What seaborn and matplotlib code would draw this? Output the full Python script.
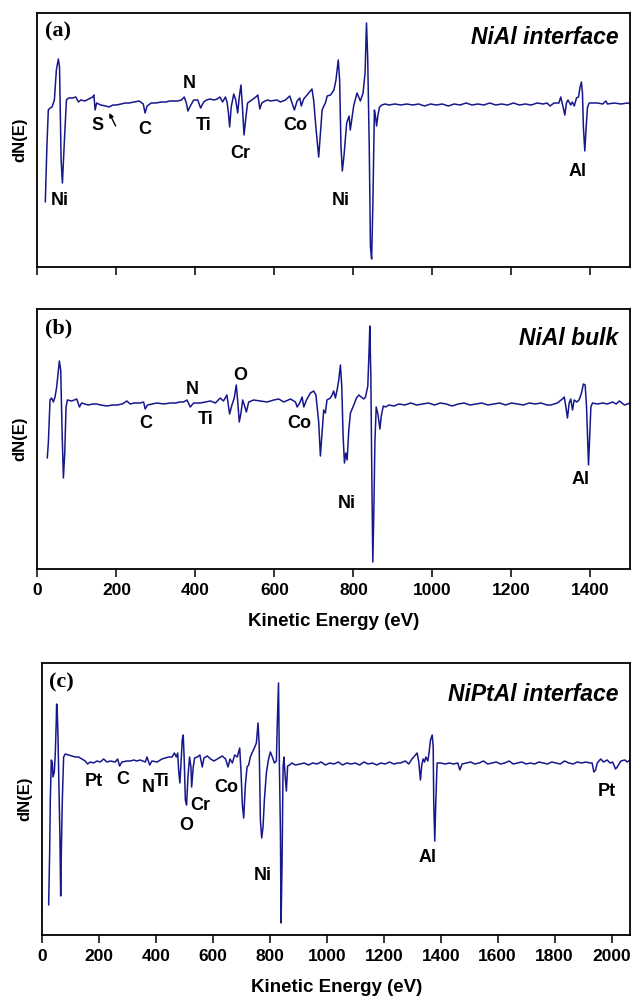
import matplotlib
matplotlib.use("Agg")
import matplotlib.pyplot as plt
import seaborn as sns
import pandas as pd

# ---------------- data (Auger spectra, arbitrary dN(E) units) ----------------
a_energy = [20, 24, 27.6, 32, 37, 43, 48, 53, 56, 60, 63.3, 68.4, 73.5, 78.6, 88.8, 97, 104, 110, 120, 130,
            140, 143, 146, 150, 160, 173, 181, 191, 200, 212, 222, 232, 245, 257.6, 268, 272.5, 277.6, 288, 300, 313.6,
            325, 335, 344, 355, 364.6, 371.7, 377, 381, 387, 395.6, 406, 413, 421, 428, 436.7, 447, 455, 462, 468.7, 476,
            480, 483.6, 486.6, 490.6, 497, 502, 507, 511, 515.3, 519, 523, 527, 532, 542.6, 553, 558, 563, 568, 576, 584,
            589.6, 606.5, 615, 627.7, 638.7, 644.6, 650.5, 657.3, 664, 668, 674, 682.5, 691, 695, 699.5, 705.5, 712, 716.5, 720.7, 725,
            729, 733.6, 742, 750.6, 755.7, 761.6, 765, 768.4, 771.8, 776, 782.8, 789, 792, 800.5, 809, 817.5, 824.3, 829.4, 833, 836,
            840, 843, 846, 849, 853, 856, 858.5, 862, 866, 872, 880, 890, 905, 920, 935, 950, 965, 980, 995, 1010,
            1025, 1040, 1055, 1070, 1085, 1100, 1115, 1130, 1145, 1160, 1175, 1190, 1205, 1220, 1235, 1250, 1265, 1280, 1290, 1297.6,
            1307.8, 1320, 1324.7, 1330.6, 1335, 1339, 1343, 1350, 1354, 1359, 1364.5, 1369.6, 1373.7, 1377, 1379.7, 1382, 1385.6, 1389, 1392.5, 1396.8,
            1405, 1418, 1431, 1438.8, 1443, 1460, 1477, 1494, 1502]
a_signal = [65, 120, 157, 159, 160, 167, 197, 208, 200, 107, 84, 127, 167, 169, 169, 170, 165, 167, 166, 168,
            170, 172, 157, 164, 162, 161, 160, 162, 162, 163, 164, 164, 165, 166, 163, 154, 161, 164, 164, 165,
            165, 166, 166, 166, 167, 170, 164, 156, 161, 167, 167, 159, 165, 167, 168, 167, 168, 170, 165, 170,
            165, 154, 140, 160, 173, 167, 154, 170, 182, 160, 132, 147, 164, 167, 170, 172, 158, 164, 166, 167,
            166, 167, 165, 167, 171, 164, 157, 166, 169, 161, 168, 172, 176, 178, 166, 137, 110, 134, 157, 161,
            164, 171, 172, 177, 187, 207, 187, 121, 96, 111, 144, 151, 137, 161, 174, 166, 174, 194, 244, 210,
            120, 20, 8, 60, 157, 150, 141, 152, 160, 162, 163, 162, 163, 162, 163, 162, 163, 161, 163, 162,
            163, 161, 163, 162, 164, 162, 163, 162, 164, 162, 163, 162, 164, 162, 163, 162, 164, 163, 164, 161,
            164, 164, 170, 160, 152, 164, 167, 162, 165, 161, 169, 170, 180, 185, 174, 140, 116, 140, 160, 164,
            164, 164, 163, 166, 163, 164, 163, 164, 163]

b_energy = [25, 27.7, 32, 36, 40.4, 44.6, 48.8, 55.6, 59, 62.4, 65.8, 69.2, 72.5, 75.9, 86.9, 99.6, 106.4, 112, 120, 129,
            140, 150, 160, 176, 190, 201.7, 215, 226.3, 234.8, 245, 260, 268.8, 272.8, 278.7, 290, 302.4, 320, 336, 350, 360,
            370, 378.6, 387, 395.6, 412.5, 425, 438, 450.6, 462.8, 471, 479.7, 486.5, 492.4, 498.3, 503.4, 506.8, 511, 515.3, 519.6, 523.8,
            528.9, 534.8, 547.5, 564.4, 581.3, 598.3, 611, 623.6, 640.6, 653.3, 657.4, 664, 670, 674.4, 681, 691, 699.4, 705, 712, 716.3,
            720.4, 724.7, 728.9, 733, 741.6, 745.9, 750, 754.3, 758.6, 762.8, 767, 770.4, 773.8, 777.2, 780.6, 784, 788.2, 792.4, 800.9, 807.6,
            813.6, 819.5, 826.3, 830.5, 836.3, 839.7, 841.4, 844, 846.5, 849, 851.7, 854.3, 857.6, 861.9, 867, 870.4, 875.5, 881.4, 889.8, 902.5,
            915, 930, 945, 960, 975, 990, 1005, 1020, 1035, 1050, 1065, 1080, 1095, 1110, 1125, 1140, 1155, 1170, 1185, 1200,
            1215, 1230, 1245, 1260, 1275, 1290, 1299.5, 1316, 1329, 1333.5, 1337.7, 1341.7, 1346, 1350, 1354.5, 1358.7, 1365.5, 1371, 1377.2, 1382,
            1386.5, 1390, 1392.5, 1395, 1397.6, 1401, 1405, 1418, 1431, 1443, 1456, 1465, 1473, 1486, 1494, 1503]
b_signal = [111, 126, 169, 171, 167, 172, 182, 208, 199, 139, 91, 116, 162, 169, 168, 170, 162, 166, 165, 164,
            165, 165, 164, 163, 164, 164, 165, 168, 165, 166, 166, 167, 160, 164, 165, 166, 165, 166, 166, 167,
            167, 169, 162, 166, 166, 167, 168, 166, 171, 168, 174, 155, 164, 171, 184, 169, 147, 156, 169, 164,
            157, 167, 169, 168, 167, 169, 170, 167, 170, 167, 162, 166, 172, 162, 169, 176, 178, 174, 147, 113,
            136, 159, 156, 169, 171, 174, 178, 171, 179, 189, 204, 183, 133, 106, 116, 109, 139, 156, 164, 171,
            174, 172, 170, 172, 183, 220, 243, 193, 93, 7, 60, 127, 162, 155, 140, 153, 163, 162, 164, 163,
            165, 164, 166, 164, 165, 166, 164, 166, 165, 163, 165, 166, 164, 165, 166, 164, 165, 166, 164, 166,
            165, 164, 166, 165, 166, 164, 164, 166, 170, 172, 162, 151, 166, 170, 159, 169, 167, 169, 176, 185,
            184, 162, 132, 104, 129, 162, 166, 165, 166, 165, 167, 165, 168, 164, 165, 167]

c_energy = [22.3, 25.8, 28.1, 31.6, 35, 37.5, 42.2, 45.7, 49.2, 50.3, 52, 55, 58.5, 61.8, 64.6, 66.8, 70.3, 74.9, 80.7, 92.4,
            104, 115.7, 127.4, 139, 150.8, 159, 168.4, 180, 191.9, 203.6, 215.4, 227, 238.8, 256.3, 264.5, 271.7, 279.9, 297.5, 310, 321,
            332, 344.4, 362, 367.8, 377.3, 385.4, 403, 420.6, 432.3, 444, 455.8, 464, 471, 475.8, 479, 483.4, 488, 491.6, 495.2, 498.7,
            502.6, 507, 511.7, 517.5, 522.2, 524.8, 530.4, 535.1, 544.5, 553.8, 562, 568, 579.6, 591.4, 603, 615, 632.6, 644, 652.5, 659.5,
            667.7, 676, 685, 693.6, 698.3, 703, 707.7, 713.5, 719.4, 725, 731, 737, 745, 752.2, 758, 762, 766.3, 770.9, 775.6, 780.3,
            787.3, 794.3, 801.4, 808.4, 815.4, 822.5, 826, 830, 833, 836.6, 839, 842.4, 846, 849, 853, 857.6, 862, 869, 877, 889,
            906.5, 920, 935, 950, 965, 980, 995, 1010, 1025, 1040, 1055, 1070, 1085, 1100, 1115, 1130, 1145, 1160, 1175, 1190,
            1205, 1220, 1235, 1250, 1258, 1276, 1287.5, 1299, 1311, 1317, 1323, 1328.6, 1333.3, 1338, 1343, 1347.6, 1354.6, 1359.3, 1364, 1370,
            1373.5, 1375.4, 1379, 1382.5, 1387.2, 1399, 1416.5, 1430, 1445, 1460, 1467, 1475, 1490, 1505, 1520, 1535, 1550, 1565, 1580, 1595,
            1610, 1625, 1640, 1655, 1670, 1685, 1700, 1715, 1730, 1745, 1760, 1775, 1790, 1805, 1820, 1835, 1850, 1865, 1880, 1895,
            1910, 1925, 1932, 1938, 1944, 1950, 1962, 1972, 1985, 1995, 2004, 2014, 2020, 2033, 2047, 2055, 2065, 2072]
c_signal = [30, 82, 135, 175, 173, 158, 163, 182, 215, 231, 229, 200, 150, 100, 39, 82, 135, 178, 181, 180,
            179, 178, 178, 176, 174, 171, 173, 172, 174, 173, 176, 173, 174, 173, 176, 169, 173, 174, 174, 175,
            174, 175, 173, 178, 170, 174, 173, 176, 177, 178, 178, 182, 178, 182, 165, 152, 175, 195, 200, 175,
            135, 130, 158, 178, 168, 148, 168, 177, 178, 180, 168, 177, 179, 176, 174, 176, 179, 176, 168, 176,
            172, 180, 178, 187, 163, 130, 117, 150, 168, 170, 178, 182, 187, 192, 212, 190, 115, 97, 108, 135,
            162, 175, 183, 178, 172, 174, 215, 252, 172, 105, 12, 72, 168, 178, 160, 144, 169, 170, 172, 170,
            171, 172, 170, 172, 171, 173, 170, 172, 171, 173, 170, 172, 171, 172, 170, 173, 171, 172, 170, 172,
            171, 173, 171, 172, 172, 174, 171, 176, 180, 182, 173, 155, 170, 176, 173, 178, 174, 183, 195, 200,
            188, 132, 94, 132, 172, 172, 171, 172, 171, 172, 165, 171, 172, 173, 171, 172, 174, 171, 172, 173,
            171, 172, 174, 171, 172, 173, 171, 172, 171, 173, 172, 171, 173, 172, 171, 174, 172, 171, 173, 172,
            173, 172, 172, 163, 165, 172, 176, 173, 175, 172, 173, 166, 168, 174, 175, 173, 175, 174]

# element labels: (text, energy, signal)
a_labels = [("Ni", 56, 67), ("S", 153, 141), ("C", 272, 138), ("N", 384, 184), ("Ti", 420, 142),
            ("Cr", 514, 113), ("Co", 653, 142), ("Ni", 767, 67), ("Al", 1367, 96)]
b_labels = [("C", 274, 146), ("N", 392, 179), ("Ti", 427, 150), ("O", 513, 193), ("Co", 663, 145),
            ("Ni", 782, 66), ("Al", 1374, 89)]
c_labels = [("Pt", 180, 154), ("C", 283, 155), ("N", 374, 148), ("Ti", 420, 154), ("O", 505, 110),
            ("Cr", 555, 129), ("Co", 647, 148), ("Ni", 774, 60), ("Al", 1355, 78), ("Pt", 1984, 143)]

panel_tags = ["(a)", "(b)", "(c)"]
panel_titles = ["NiAl interface", "NiAl bulk", "NiPtAl interface"]
ab_ticks = [0, 200, 400, 600, 800, 1000, 1200, 1400]
c_ticks = [0, 200, 400, 600, 800, 1000, 1200, 1400, 1600, 1800, 2000]

# ---------------- styling ----------------
sns.set_style("ticks")
plt.rcParams["font.family"] = ["Liberation Sans", "DejaVu Sans"]
plt.rcParams["text.color"] = "black"
plt.rcParams["axes.labelcolor"] = "black"
plt.rcParams["xtick.color"] = "black"
plt.rcParams["ytick.color"] = "black"
LINE = "#17178c"

W, H = 631, 999
fig = plt.figure(figsize=(W / 100, H / 100), dpi=100)

def px_axes(left, top, right, bottom):
    return fig.add_axes([left / W, 1 - bottom / H, (right - left) / W, (bottom - top) / H])

ax_a = px_axes(37.4, 13, 630, 267)
ax_b = px_axes(37.4, 309, 630, 569)
ax_c = px_axes(42.3, 663, 630, 935)

panels = [
    (ax_a, a_energy, a_signal, a_labels, (0, 1500), 254, ab_ticks, False),
    (ax_b, b_energy, b_signal, b_labels, (0, 1500), 260, ab_ticks, True),
    (ax_c, c_energy, c_signal, c_labels, (0, 2065), 272, c_ticks, True),
]

for i, (ax, en, sig, labs, xlim, ymax, ticks, show_lab) in enumerate(panels):
    df = pd.DataFrame({"Kinetic Energy (eV)": en, "dN(E)": sig})
    sns.lineplot(data=df, x="Kinetic Energy (eV)", y="dN(E)", ax=ax, color=LINE,
                 linewidth=1.1, estimator=None, sort=False)
    ax.set_xlim(*xlim)
    ax.set_ylim(0, ymax)
    ax.set_yticks([])
    ax.set_xticks(ticks)
    for s in ax.spines.values():
        s.set_visible(True)
        s.set_linewidth(1.3)
        s.set_color("black")
    ax.tick_params(axis="x", direction="out", length=5.5, width=1.1, pad=4.5,
                   labelsize=12.5, labelbottom=show_lab, colors="black")
    for t in ax.get_xticklabels():
        t.set_fontweight("bold")
    ax.set_ylabel("dN(E)", fontsize=12, fontweight="bold", labelpad=7, color="black")
    if show_lab:
        ax.set_xlabel("Kinetic Energy (eV)", fontsize=13.5, fontweight="bold", color="black")
        ax.xaxis.set_label_coords(0.5, -0.168 if i == 1 else -0.163)
    else:
        ax.set_xlabel("")
    for txt, ex, ey in labs:
        ax.text(ex, ey, txt, ha="center", va="center", fontsize=13, fontweight="bold", color="black")
    ax.text(0.012, 0.965, panel_tags[i], transform=ax.transAxes, ha="left", va="top",
            fontsize=16, fontweight="bold", family=["Liberation Serif", "DejaVu Serif"], color="black")
    ax.text(0.98, 0.905 if i == 0 else 0.885, panel_titles[i], transform=ax.transAxes,
            ha="right", va="center", fontsize=16.5, fontweight="bold", fontstyle="italic", color="black")

ax_a.annotate("", xy=(182, 154), xytext=(198, 141),
              arrowprops=dict(arrowstyle="-|>", color="black", lw=1.0, mutation_scale=6,
                              shrinkA=0, shrinkB=0))

fig.savefig("out.png", dpi=100)
